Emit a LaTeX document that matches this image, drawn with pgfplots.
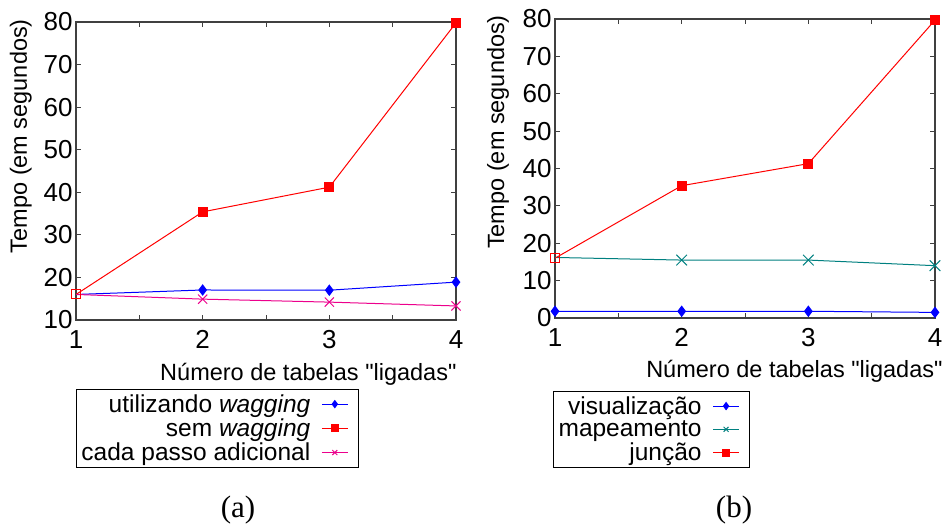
\documentclass[border=0pt]{standalone}
\usepackage{fontspec}
\setmainfont{Liberation Sans}
\newfontfamily\rawsans{Liberation Sans}
\newfontfamily\seriffont{Liberation Serif}
\usepackage{pgfplots}
\pgfplotsset{compat=1.18}
\definecolor{myteal}{RGB}{0,128,128}
\definecolor{axgray}{RGB}{64,64,64}
\newcommand{\sq}{{\rawsans"}}
\pgfplotsset{
  myaxis/.style={
    scale only axis, width=380bp,
    xmin=1, xmax=4, xtick={1,2,3,4}, minor xtick={1.5,2.5,3.5},
    tick align=inside, major tick length=5bp, minor tick length=5bp,
    axis line style={axgray, line width=1.2bp},
    every tick/.style={axgray, line width=1bp},
    /pgf/number format/assume math mode=true,
    tick label style={font=\fontsize{26bp}{30bp}\selectfont},
    xticklabel style={yshift=-7bp},
    label style={font=\fontsize{23.5bp}{27bp}\selectfont},
    legend style={font=\fontsize{24.5bp}{28bp}\selectfont, draw=black, line width=1bp,
      legend cell align=right, inner xsep=3bp, inner ysep=3bp, row sep=1bp,
      /tikz/column sep=9bp},
    legend plot pos=right,
    legend image code/.code={\draw[mark repeat=2,mark phase=2,#1,mark indices={2},mark size=3.5bp] plot coordinates {(0bp,0bp) (13bp,0bp) (26bp,0bp)};\path (33bp,0bp);},
    ylabel={Tempo (em segundos)},
    xlabel={Número de tabelas \sq ligadas\sq},
  }
}
\begin{document}
\begin{tikzpicture}
\useasboundingbox (0,0) rectangle (946bp,526bp);
\begin{axis}[myaxis, at={(76bp,206bp)}, anchor=south west, height=298bp,
  ymin=10, ymax=80, ytick={10,20,...,80},
  ylabel style={at={(axis description cs:-0.145,0.617)}, anchor=center},
  xlabel style={at={(axis description cs:1.0105,-0.203)}, anchor=base east},
  legend style={at={(axis description cs:0,-0.2315)}, anchor=north west}]
\addplot[blue, line width=1bp, mark=diamond*, mark size=5bp, mark indices={2,3,4}] coordinates {(1,16) (2,17.05) (3,17.0) (4,18.9)};
\addlegendentry{utilizando \textit{wagging}}
\addplot[red, line width=1bp, mark=square*, mark size=4.5bp, mark indices={2,3,4}] coordinates {(1,16) (2,35.4) (3,41.2) (4,79.8)};
\addlegendentry{sem \textit{wagging}}
\addplot[magenta, line width=1bp, mark=x, mark size=6.5bp, mark indices={2,3,4}] coordinates {(1,16) (2,14.9) (3,14.2) (4,13.3)};
\addlegendentry{cada passo adicional}
\addplot[red, line width=1bp, only marks, mark=square, mark size=4.5bp, forget plot] coordinates {(1,16)};
\end{axis}
\begin{axis}[myaxis, at={(555bp,208bp)}, anchor=south west, height=299bp,
  ymin=0, ymax=80, ytick={0,10,...,80},
  ylabel style={at={(axis description cs:-0.15,0.622)}, anchor=center},
  xlabel style={at={(axis description cs:1.029,-0.2)}, anchor=base east},
  legend style={at={(axis description cs:-0.005,-0.244)}, anchor=north west}]
\addplot[blue, line width=1bp, mark=diamond*, mark size=5bp] coordinates {(1,1.8) (2,1.8) (3,1.8) (4,1.5)};
\addlegendentry{visualização}
\addplot[myteal, line width=1bp, mark=x, mark size=7.5bp, mark indices={2,3,4}] coordinates {(1,16.2) (2,15.5) (3,15.5) (4,14.0)};
\addlegendentry{mapeamento}
\addplot[red, line width=1bp, mark=square*, mark size=4.5bp, mark indices={2,3,4}] coordinates {(1,16) (2,35.4) (3,41.3) (4,79.7)};
\addlegendentry{junção}
\addplot[red, line width=1bp, only marks, mark=square, mark size=4.5bp, forget plot] coordinates {(1,16)};
\end{axis}
\node[font=\seriffont\fontsize{31bp}{34bp}\selectfont, anchor=base] at (238bp,9bp) {(a)};
\node[font=\seriffont\fontsize{31bp}{34bp}\selectfont, anchor=base] at (734bp,9bp) {(b)};
\end{tikzpicture}
\end{document}
